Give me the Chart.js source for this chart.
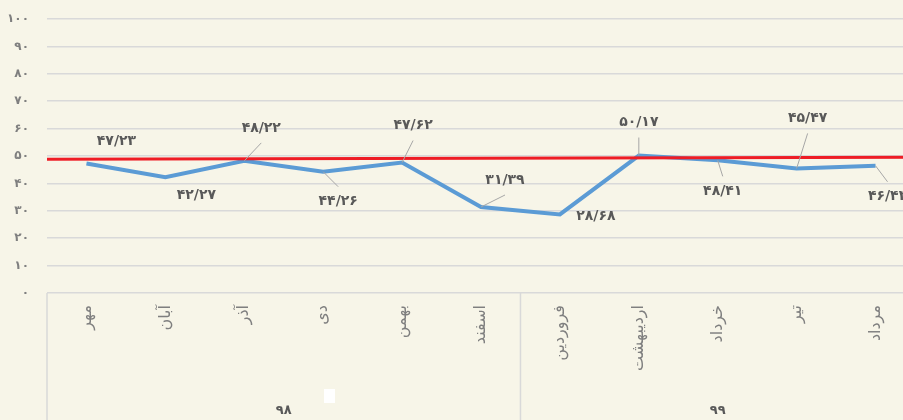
<!DOCTYPE html>
<html>
<head>
<meta charset="utf-8">
<script src="https://cdn.jsdelivr.net/npm/chart.js@4.4.0/dist/chart.umd.min.js"></script>
<style>
html,body{margin:0;padding:0;overflow:hidden;background:#F7F5E8;width:903px;height:420px;}
#wrap{position:relative;width:903px;height:420px;overflow:hidden;}
#mark{position:absolute;left:324px;top:389px;width:11px;height:14px;background:#ffffff;}
canvas{display:block;}
</style>
</head>
<body>
<div id="wrap">
<canvas id="c" width="915" height="420"></canvas>
<div id="mark"></div>
</div>
<script>
// ---- data ----
const months = ['مهر','آبان','آذر','دی','بهمن','اسفند','فروردین','اردیبهشت','خرداد','تیر','مرداد'];
const values = [47.23, 42.27, 48.22, 44.26, 47.62, 31.39, 28.68, 50.17, 48.41, 45.47, 46.43];
const targetLine = [48.8, 49.5];        // red reference line, left edge -> right edge
const yearGroups = ['۹۸', '۹۹'];
const groupSizes = [6, 5];
const yMin = 0, yMax = 100, yStep = 10;

// label placement (style, not data)
const labelOffsets = [[30,-22],[31,18],[17,-33],[15,30],[11,-37],[24,-27],[36,2],[0,-33],[5,31],[11,-50],[12,31]];
const labelLeaders = [0,0,1,1,1,1,0,1,1,1,1];

const faDigits = '۰۱۲۳۴۵۶۷۸۹';
function toFa(s){ return String(s).replace(/[0-9]/g, d => faDigits[+d]); }
function fmtVal(v){ return toFa(v.toFixed(2).replace('.', '/')); }

const FONT = '"DejaVu Sans", sans-serif';

const labelPlugin = {
  id: 'pointLabels',
  afterDatasetsDraw(chart){
    const meta = chart.getDatasetMeta(1);
    const ctx = chart.ctx;
    ctx.save();
    meta.data.forEach((pt, i) => {
      const [dx, dy] = labelOffsets[i];
      const cx = pt.x + dx, cy = pt.y + dy;
      if (labelLeaders[i]) {
        const ey = cy + (dy < 0 ? 15 : -15);
        ctx.strokeStyle = '#A6A6A6';
        ctx.lineWidth = 1;
        ctx.beginPath();
        ctx.moveTo(pt.x, pt.y);
        ctx.lineTo(cx, ey);
        ctx.stroke();
      }
      ctx.fillStyle = '#595959';
      ctx.font = 'bold 14px ' + FONT;
      ctx.textAlign = 'center';
      ctx.textBaseline = 'middle';
      ctx.fillText(fmtVal(values[i]), cx, cy);
    });
    ctx.restore();
  }
};

const groupPlugin = {
  id: 'groupAxis',
  afterDraw(chart){
    const xs = chart.scales.x;
    const ctx = chart.ctx;
    const half = (xs.getPixelForValue(1) - xs.getPixelForValue(0)) / 2;
    const top = chart.chartArea.bottom;
    const bottom = chart.height;
    ctx.save();
    let start = 0;
    const bounds = [xs.getPixelForValue(0) - half];
    groupSizes.forEach((n, g) => {
      const end = start + n - 1;
      const cx = (xs.getPixelForValue(start) + xs.getPixelForValue(end)) / 2;
      ctx.fillStyle = '#595959';
      ctx.font = 'bold 13px ' + FONT;
      ctx.textAlign = 'center';
      ctx.textBaseline = 'middle';
      ctx.fillText(yearGroups[g], cx, bottom - 9);
      bounds.push(xs.getPixelForValue(end) + half);
      start += n;
    });
    ctx.strokeStyle = '#D9D9D9';
    ctx.lineWidth = 1.5;
    bounds.forEach(bx => {
      ctx.beginPath();
      ctx.moveTo(bx, top);
      ctx.lineTo(bx, bottom);
      ctx.stroke();
    });
    ctx.restore();
  }
};

new Chart(document.getElementById('c'), {
  type: 'line',
  data: {
    labels: months,
    datasets: [
      {
        label: 'target',
        data: [{x: 0, y: targetLine[0]}, {x: months.length, y: targetLine[1]}],
        xAxisID: 'xr',
        borderColor: '#EE1C25',
        borderWidth: 3,
        pointRadius: 0,
        tension: 0,
        order: 0
      },
      {
        label: 'value',
        data: values,
        xAxisID: 'x',
        borderColor: '#5B9BD5',
        borderWidth: 4,
        pointRadius: 0,
        tension: 0,
        order: 1
      }
    ]
  },
  options: {
    responsive: false,
    animation: false,
    devicePixelRatio: 1,
    layout: { padding: { top: 19, right: 0, left: 0, bottom: 0 } },
    plugins: { legend: { display: false }, tooltip: { enabled: false } },
    scales: {
      x: {
        type: 'category',
        offset: true,
        grid: { display: false },
        border: { display: false },
        ticks: {
          color: '#7F7F7F',
          font: { family: FONT, size: 16 },
          minRotation: 90,
          maxRotation: 90,
          padding: 4,
          autoSkip: false
        },
        afterFit(s){ s.height = 127; }
      },
      xr: {
        type: 'linear',
        display: false,
        min: 0,
        max: months.length
      },
      y: {
        min: yMin,
        max: yMax,
        grid: { color: '#D9D9D9', lineWidth: 1.5, drawTicks: true, tickLength: 18, tickColor: 'rgba(0,0,0,0)' },
        border: { display: false },
        ticks: {
          stepSize: yStep,
          color: '#7F7F7F',
          padding: 0,
          font: { family: FONT, size: 12, weight: 'bold' },
          callback: v => toFa(v)
        },
        afterFit(s){ s.width = 47; }
      }
    }
  },
  plugins: [labelPlugin, groupPlugin]
});
</script>
</body>
</html>
